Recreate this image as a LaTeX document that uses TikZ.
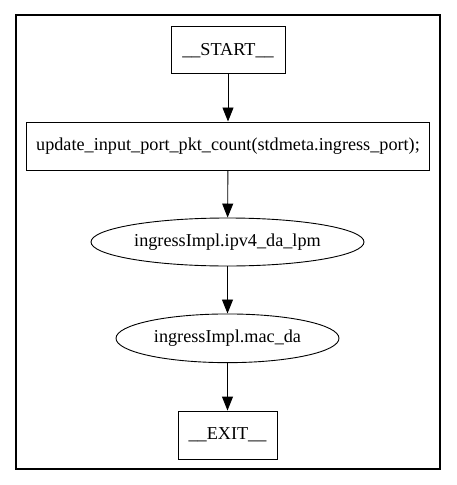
\documentclass[tikz,border=0pt]{standalone}
\usepackage{fontspec}
\setmainfont{Liberation Serif}
\usetikzlibrary{shapes.geometric,arrows.meta}
\begin{document}
\begin{tikzpicture}[x=1pt,y=-1pt,
  base/.style={draw,line width=0.9pt,inner sep=0pt,font=\fontsize{18.2}{20}\selectfont},
  boxnode/.style={base,rectangle},
  ellnode/.style={base,ellipse},
  flow/.style={line width=0.9pt,-{Triangle[length=14pt,width=11pt]}}]
\useasboundingbox (0,0) rectangle (456,485);
\node[draw,line width=2.5pt,minimum width=424pt,minimum height=454pt,inner sep=0pt] (frame) at (228,242) {};
\node[boxnode,minimum width=114pt,minimum height=47pt] (start) at (228,50.3) {\_\_START\_\_};
\node[boxnode,minimum width=402.6pt,minimum height=48.7pt] (upd) at (228,146.3) {update\_input\_port\_pkt\_count(stdmeta.ingress\_port);};
\node[ellnode,minimum width=273pt,minimum height=48pt] (lpm) at (227.5,242) {ingressImpl.ipv4\_da\_lpm};
\node[ellnode,minimum width=223pt,minimum height=48.7pt] (mac) at (227.5,338.3) {ingressImpl.mac\_da};
\node[boxnode,minimum width=99pt,minimum height=48pt] (exit) at (227.5,435) {\_\_EXIT\_\_};
\draw[flow] (start) -- (upd);
\draw[flow] (upd) -- (lpm);
\draw[flow] (lpm) -- (mac);
\draw[flow] (mac) -- (exit);
\end{tikzpicture}
\end{document}
